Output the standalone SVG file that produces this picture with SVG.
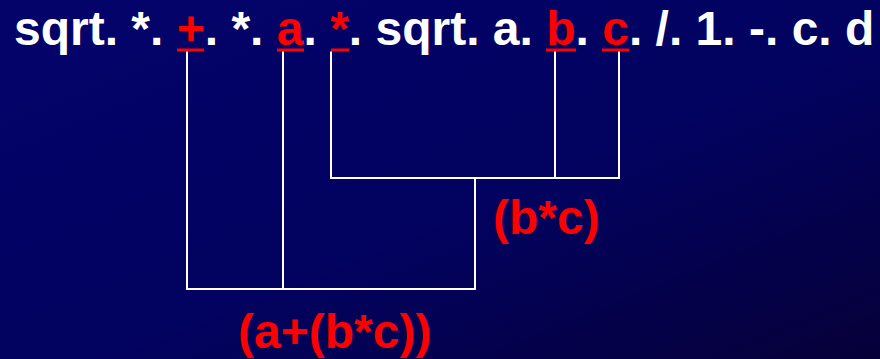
<svg xmlns="http://www.w3.org/2000/svg" width="880" height="359" viewBox="0 0 880 359">
<defs>
<linearGradient id="bg" x1="0" y1="0" x2="1" y2="1">
<stop offset="0" stop-color="#03036b"/>
<stop offset="0.55" stop-color="#020260"/>
<stop offset="1" stop-color="#060038"/>
</linearGradient>
<style>
.t{font-family:"Liberation Sans",Arial,sans-serif;font-weight:bold;font-size:48px;fill:#ffffff}
.r{fill:#ff0000}
.u{stroke:#ff0000;stroke-width:3}
.c{stroke:#ffffff;stroke-width:2;fill:none}
</style>
</defs>
<rect width="880" height="359" fill="url(#bg)"/>
<g id="expression">
<text class="t" x="14" y="45" xml:space="preserve">sqrt. *. <tspan class="r">+</tspan>. *. <tspan class="r">a</tspan>. <tspan class="r">*</tspan>. sqrt. a. <tspan class="r">b</tspan>. <tspan class="r">c</tspan>. /. 1. -. c. d</text>
<line class="u" x1="177" y1="50" x2="204" y2="50"/>
<line class="u" x1="277" y1="50" x2="304" y2="50"/>
<line class="u" x1="331" y1="50" x2="349" y2="50"/>
<line class="u" x1="546" y1="50" x2="576" y2="50"/>
<line class="u" x1="602" y1="50" x2="629" y2="50"/>
</g>
<g id="connectors">
<polyline class="c" points="187,51.5 187,289 475,289 475,178"/>
<line class="c" x1="283" y1="51.5" x2="283" y2="289"/>
<polyline class="c" points="331,51.5 331,178 619,178 619,51.5"/>
<line class="c" x1="555" y1="51.5" x2="555" y2="178"/>
</g>
<g id="label-bc">
<text class="t r" x="493" y="234">(b*c)</text>
</g>
<g id="label-abc">
<text class="t r" x="238" y="348">(a+(b*c))</text>
</g>
</svg>
